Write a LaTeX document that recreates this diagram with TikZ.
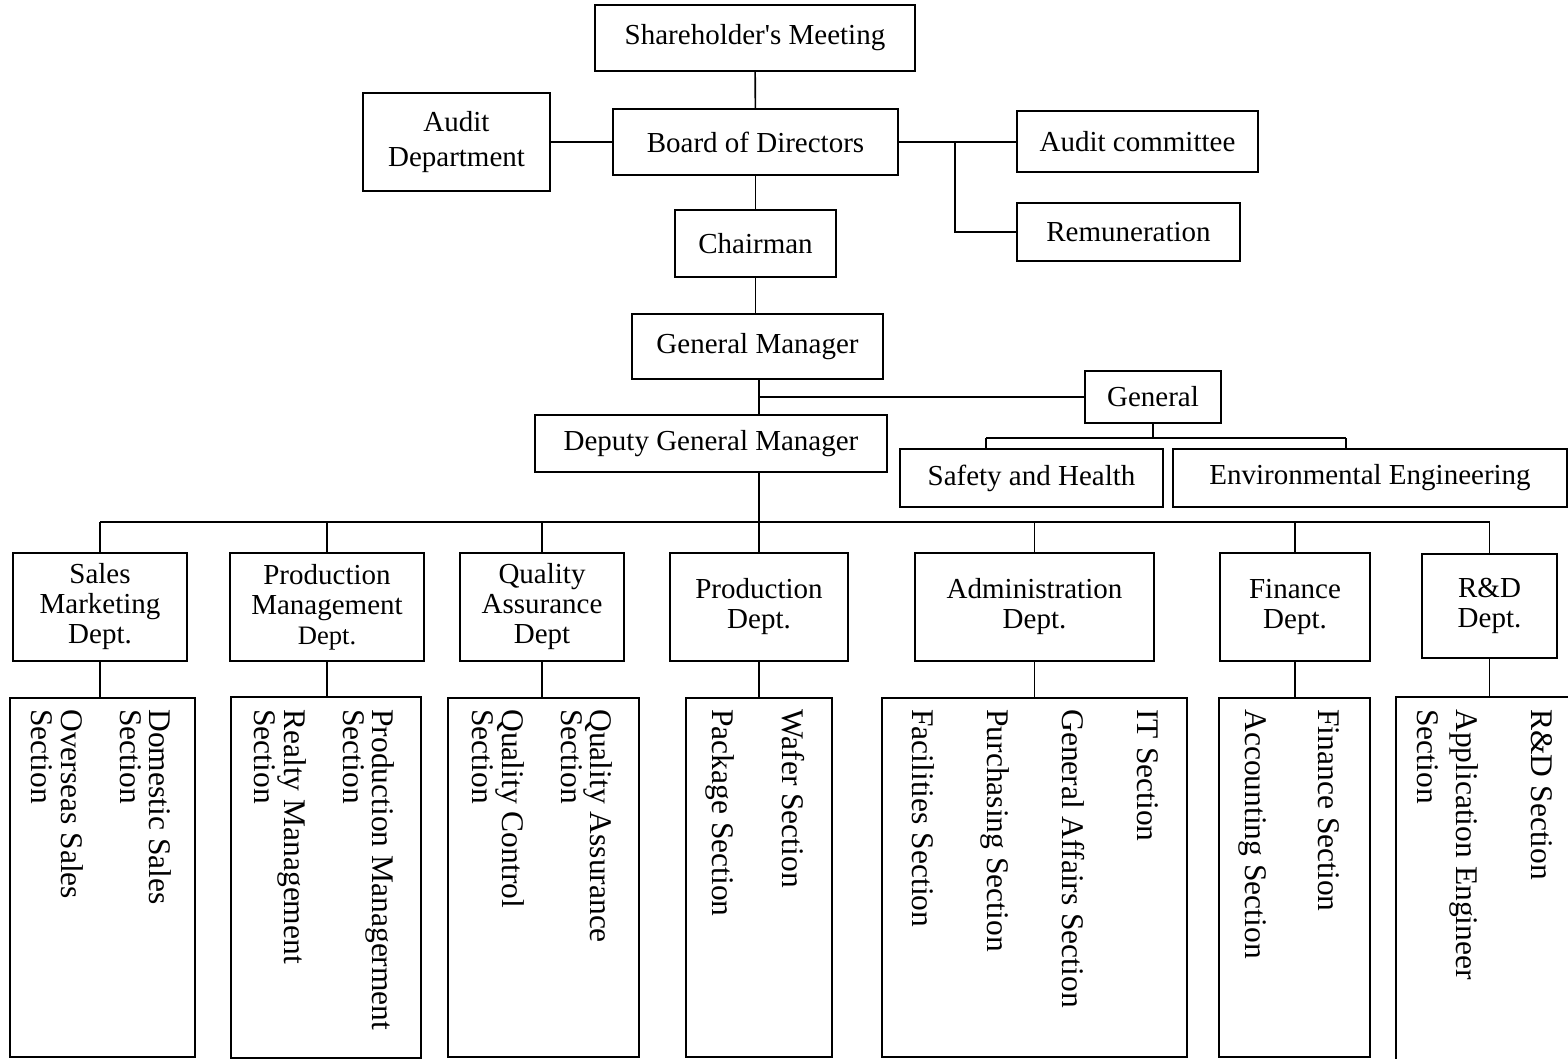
\documentclass[tikz,border=0pt]{standalone}
\usepackage{fontspec}
\setmainfont{Liberation Serif}
\usetikzlibrary{positioning}

\newcommand{\boxfont}{\fontsize{14.5}{15}\selectfont}
\newcommand{\secfont}{\fontsize{15.75}{14.75}\selectfont}

\begin{document}
\begin{tikzpicture}[
      x=0.5pt, y=-0.5pt,
      box/.style={
        rectangle,
        draw,
        line width=1pt,
        inner sep=0pt,
        align=center,
        font=\boxfont
      },
      secbox/.style={draw, line width=1pt, inner sep=0pt},
      sectext/.style={inner sep=0pt, align=left, rotate=-90, anchor=north west, font=\secfont},
      link/.style={draw, line width=0.8pt}
    ]
    \useasboundingbox (0,0) rectangle (1568,1059);

    % top of the chart
    \node[box, minimum width=160pt, minimum height=33pt] (meeting) at (755,38) {Shareholder\textquotesingle s Meeting};
    \node[box, minimum width=142.5pt, minimum height=33pt] (board) at (755.5,142) {Board of Directors};
    \node[box, minimum width=93.5pt, minimum height=49pt] (auditdept) at (456.5,142) {Audit\\[2.5pt]Department};
    \node[box, minimum width=120.5pt, minimum height=30.5pt] (auditcom) at (1137.5,141.5) {Audit committee};
    \node[box, minimum width=111.5pt, minimum height=29pt] (remun) at (1128.5,232) {Remuneration};
    \node[box, minimum width=80.5pt, minimum height=33.5pt] (chairman) at (755.5,243.5) {Chairman};
    \node[box, minimum width=125.5pt, minimum height=32.5pt] (gm) at (757.5,346.5) {General Manager};
    \node[box, minimum width=68pt, minimum height=26pt] (general) at (1153,397) {General};
    \node[box, minimum width=176pt, minimum height=28.5pt] (dgm) at (711,443.5) {Deputy General Manager};
    \node[box, minimum width=131.5pt, minimum height=29pt] (safety) at (1031.5,478) {Safety and Health};
    \node[box, minimum width=197pt, minimum height=29pt] (env) at (1370,478) {Environmental Engineering};

    % departments
    \node[box, minimum width=87pt, minimum height=54pt] (sales) at (100,607) {Sales\\Marketing\\Dept.};
    \node[box, minimum width=97pt, minimum height=54pt] (pm) at (327,607) {Production\\Management\\{\fontsize{13.3}{15}\selectfont Dept.}};
    \node[box, minimum width=82pt, minimum height=54pt] (qa) at (542,607) {Quality\\Assurance\\Dept};
    \node[box, minimum width=89pt, minimum height=54pt] (prod) at (759,607) {Production\\Dept.};
    \node[box, minimum width=119.5pt, minimum height=54pt] (admin) at (1034.5,607) {Administration\\Dept.};
    \node[box, minimum width=75pt, minimum height=54pt] (fin) at (1295,607) {Finance\\Dept.};
    \node[box, minimum width=67.5pt, minimum height=52pt] (rd) at (1489.5,606) {R\&D\\Dept.};

    % sections
    \node[secbox, minimum width=92.5pt, minimum height=179.5pt] (sales-sec) at (102.5,877.5) {};
    \node[secbox, minimum width=95pt, minimum height=180.5pt] (pm-sec) at (326,877.5) {};
    \node[secbox, minimum width=95.5pt, minimum height=179.5pt] (qa-sec) at (543.5,877.5) {};
    \node[secbox, minimum width=73pt, minimum height=179.5pt] (prod-sec) at (759,877.5) {};
    \node[secbox, minimum width=152.5pt, minimum height=179.5pt] (admin-sec) at (1034.5,877.5) {};
    \node[secbox, minimum width=75.5pt, minimum height=179.5pt] (fin-sec) at (1294.5,877.5) {};
    \node[secbox, minimum width=97pt, minimum height=191.5pt] (rd-sec) at (1493,888.5) {};

    \node[sectext] (sales-txt) at (172,709) {Domestic Sales\\Section\\[14.75pt]Overseas Sales\\Section};
    \node[sectext] (pm-txt) at (395,709) {Production Managerment\\Section\\[14.75pt]Realty Management\\Section};
    \node[sectext] (qa-txt) at (613,709) {Quality Assurance\\Section\\[14.75pt]Quality Control\\Section};
    \node[sectext] (prod-txt) at (805,709) {Wafer Section\\[20.25pt]Package Section};
    \node[sectext] (admin-txt) at (1159,709) {IT Section\\[22.75pt]General Affairs Section\\[22.75pt]Purchasing Section\\[22.75pt]Facilities Section};
    \node[sectext] (fin-txt) at (1340,709) {Finance Section\\[21.75pt]Accounting Section};
    \node[sectext] (rd-txt) at (1553,709) {R\&D Section\\[22.75pt]Application Engineer\\[5pt]Section};

    % connectors
    \coordinate (split) at (955,142);
    \coordinate (spine) at (759,0);
    \coordinate (genL) at (986,438);
    \coordinate (genR) at (1346,438);
    \coordinate (busL) at (100,522);
    \coordinate (busR) at (1489.5,522);

    \path[link] (meeting) -- (board);
    \path[link] (auditdept) -- (board);
    \path[link] (board.east) -- (board.east -| auditcom.west);
    \path[link] (split) |- (remun.west);
    \path[link] (board) -- (chairman);
    \path[link] (chairman.south) -- (chairman.south |- gm.north);
    \path[link] (spine |- gm.south) -- (spine |- dgm.north);
    \path[link] (spine |- general.west) -- (general.west);
    \path[link] (spine |- dgm.south) -- (prod.north);
    \path[link] (general.south) -- (general.south |- genL);
    \path[link] (genL) -- (genR);
    \path[link] (genL) -- (genL |- safety.north);
    \path[link] (genR) -- (genR |- env.north);
    \path[link] (busL) -- (busR);
    \foreach \d in {sales,pm,qa,admin,fin,rd} {
      \path[link] (\d.north |- busL) -- (\d.north);
    }
    \foreach \d in {sales,pm,qa,prod,admin,fin,rd} {
      \path[link] (\d.south) -- (\d.south |- \d-sec.north);
    }
  \end{tikzpicture}
\end{document}
